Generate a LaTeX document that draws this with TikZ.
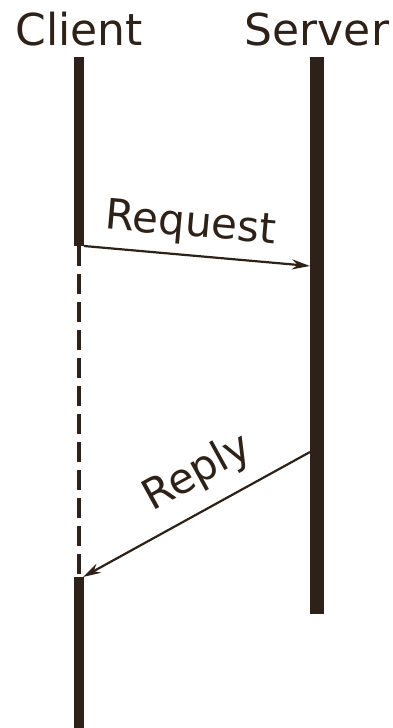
\documentclass[tikz,border=0pt]{standalone}
\usepackage{fontspec}
\setmainfont{DejaVu Sans}
\usetikzlibrary{arrows.meta}
\definecolor{darkbrown}{HTML}{2E2118}

\begin{document}
\begin{tikzpicture}[
    x=1pt, y=-1pt,
    font=\fontsize{44}{52}\selectfont,
    actor/.style={anchor=base, text=darkbrown, inner sep=0pt},
    lifeline/.style={draw=darkbrown, line width=#1},
    idle/.style={draw=darkbrown, line width=4pt, dash pattern=on 20pt off 8pt},
    message/.style={-{Stealth[length=18pt, width=10pt]}, line width=2.2pt, draw=darkbrown},
    msglabel/.style={font=\fontsize{42}{50}\selectfont, text=darkbrown, sloped, above=#1}
  ]
    \useasboundingbox (0,0) rectangle (393,728);

    \node[actor] (client) at (79,45)  {Client};
    \node[actor] (server) at (317,45) {Server};

    % lifelines
    \coordinate (c top)    at (79,57);
    \coordinate (c wait)   at (79,246);
    \coordinate (c resume) at (79,577);
    \coordinate (c end)    at (79,728);
    \coordinate (s top)    at (317,57);
    \coordinate (s end)    at (317,614);

    \draw[lifeline=10pt] (c top) -- (c wait);
    \draw[idle] (c wait) -- (c resume);
    \draw[lifeline=10pt] (c resume) -- (c end);
    \draw[lifeline=14pt] (s top) -- (s end);

    % messages
    \coordinate (req out) at (84,246);
    \coordinate (req in)  at (310,266);
    \coordinate (rep out) at (310,452);
    \coordinate (rep in)  at (83,577);

    \draw[message] (req out) -- (req in)
      node[pos=0.46, msglabel=6pt] {Request};
    \draw[message] (rep out) -- (rep in)
      node[pos=0.42, msglabel=11pt] {Reply};
\end{tikzpicture}
\end{document}
